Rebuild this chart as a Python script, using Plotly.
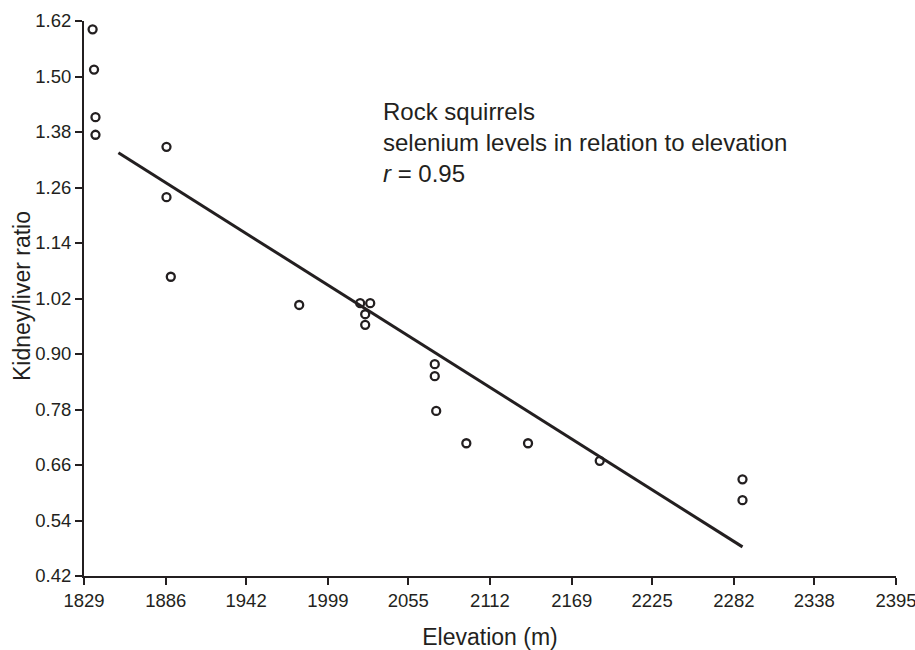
import plotly.graph_objects as go

# Data
elevation = [1835, 1836, 1837, 1837, 1886.5, 1886.5, 1889.5, 1979, 2021.5, 2028.5,
             2025, 2025, 2073.5, 2073.5, 2074.5, 2095.5, 2138.5, 2188.5, 2288, 2288]
ratio = [1.602, 1.515, 1.412, 1.374, 1.348, 1.239, 1.067, 1.006, 1.010, 1.010,
         0.986, 0.963, 0.878, 0.852, 0.777, 0.707, 0.707, 0.669, 0.629, 0.584]

fit_x = [1853, 2288]
fit_y = [1.335, 0.483]

x_ticks = [1829, 1886, 1942, 1999, 2055, 2112, 2169, 2225, 2282, 2338, 2395]
y_ticks = [0.42, 0.54, 0.66, 0.78, 0.90, 1.02, 1.14, 1.26, 1.38, 1.50, 1.62]

ink = "#231f20"
font_family = "Liberation Sans, Arial, Helvetica, sans-serif"

fig = go.Figure()
fig.add_trace(go.Scatter(
    x=fit_x, y=fit_y, mode="lines",
    line=dict(color=ink, width=3), hoverinfo="skip", showlegend=False,
))
fig.add_trace(go.Scatter(
    x=elevation, y=ratio, mode="markers",
    marker=dict(symbol="circle-open", size=8, color=ink, line=dict(width=2.3, color=ink)),
    showlegend=False, cliponaxis=False,
))

axis_common = dict(
    showgrid=False, zeroline=False, showline=True, linecolor=ink, linewidth=2,
    ticks="outside", ticklen=7, tickwidth=2, tickcolor=ink,
    tickfont=dict(family=font_family, size=18.5, color=ink),
    mirror=False, automargin=False, ticklabeloverflow="allow",
)

fig.update_xaxes(
    range=[1829, 2395], tickvals=x_ticks, ticktext=[str(v) for v in x_ticks],
    title=dict(text="Elevation (m)", font=dict(family=font_family, size=23, color=ink), standoff=27),
    **axis_common,
)
fig.update_yaxes(
    range=[0.42, 1.62], tickvals=y_ticks, ticktext=[f"{v:.2f}" for v in y_ticks],
    **axis_common,
)

# y-axis title placed as a rotated annotation to match the reference position
fig.add_annotation(
    xref="paper", yref="paper", x=(22 - 84) / 812, y=(576 - 296) / 555,
    xanchor="center", yanchor="middle", textangle=-90, showarrow=False,
    text="Kidney/liver ratio",
    font=dict(family=font_family, size=23, color=ink),
)

fig.add_annotation(
    xref="paper", yref="paper", x=(381 - 84) / 812, y=(576 - 96) / 555,
    xanchor="left", yanchor="top", align="left", showarrow=False,
    text="Rock squirrels<br>selenium levels in relation to elevation<br><i>r</i> = 0.95",
    font=dict(family=font_family, size=24, color=ink),
)

fig.update_layout(
    width=915, height=650,
    margin=dict(l=84, r=19, t=21, b=74),
    paper_bgcolor="white", plot_bgcolor="white",
    font=dict(family=font_family, color=ink),
)

fig.write_html(
    "out.html",
    config={"displayModeBar": False},
    post_script="document.body.style.margin='0';document.body.style.overflow='hidden';",
)
